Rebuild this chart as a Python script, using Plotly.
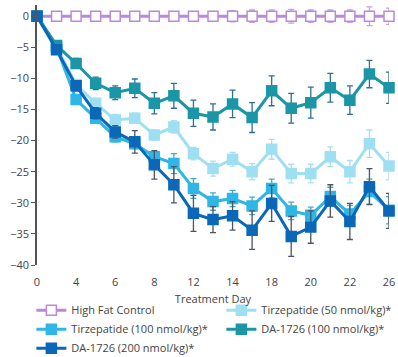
import plotly.graph_objects as go

# ---- data ----
x_index = list(range(19))
tick_positions = [0, 2, 4, 6, 8, 10, 12, 14, 16, 18]
tick_labels = ["0", "4", "6", "8", "12", "14", "18", "20", "22", "26"]

series_names = [
    "High Fat Control",
    "Tirzepatide (50 nmol/kg)*",
    "Tirzepatide (100 nmol/kg)*",
    "DA-1726 (100 nmol/kg)*",
    "DA-1726 (200 nmol/kg)*",
]

hfc = [0] * 19
hfc_err = [0, 0, 0, 0, 0, 0, 0, 0, 0.3, 0.6, 0.9, 1.0, 1.0, 1.1, 1.0, 1.0, 1.0, 1.5, 1.3]

tirz50 = [0, -5.0, -11.0, -14.0, -16.7, -16.4, -19.1, -17.8, -22.1, -24.5, -23.0, -25.0,
          -21.4, -25.3, -25.3, -22.6, -25.0, -20.5, -24.1]
tirz50_err = [0, 0.4, 0.8, 0.8, 0.9, 0.8, 0.8, 1.0, 1.0, 1.2, 1.1, 1.3, 1.6, 1.5, 1.5,
              1.6, 1.8, 2.2, 2.2]

tirz100 = [0, -5.0, -13.4, -16.4, -19.4, -20.5, -22.6, -23.7, -27.7, -29.8, -29.3, -30.5,
           -27.7, -31.3, -32.0, -29.0, -31.8, -28.2, -31.2]
tirz100_err = [0, 0.4, 0.7, 0.8, 0.8, 0.8, 0.8, 1.6, 1.6, 1.4, 1.3, 1.4, 1.5, 1.4, 1.3,
               1.5, 1.4, 2.0, 2.2]

da100 = [0, -4.7, -7.6, -10.8, -12.3, -11.6, -14.0, -12.8, -15.6, -16.2, -14.1, -16.3,
         -12.0, -14.8, -13.9, -11.5, -13.5, -9.3, -11.5]
da100_err = [0, 0.4, 0.8, 1.0, 1.1, 1.5, 1.7, 2.0, 2.1, 2.1, 2.2, 2.4, 2.4, 2.4, 2.5,
             2.3, 2.3, 2.2, 2.5]

da200 = [0, -5.4, -11.2, -15.6, -18.6, -20.2, -23.9, -27.1, -31.7, -32.7, -32.1, -34.4,
         -30.1, -35.4, -33.9, -29.7, -33.0, -27.4, -31.3]
da200_err = [0, 0.4, 0.8, 0.9, 1.0, 1.8, 2.3, 2.9, 2.9, 2.1, 2.3, 3.1, 2.9, 3.2, 2.6,
             2.6, 2.9, 2.9, 2.8]

values = [hfc, tirz50, tirz100, da100, da200]
errors = [hfc_err, tirz50_err, tirz100_err, da100_err, da200_err]

line_colors = ["#b98ad9", "#9fdff2", "#2db6e6", "#1a96a6", "#0b67b8"]
err_colors = ["#c6a3e3", "#a8dff0", "#4aa7c4", "#2f6f95", "#4d5560"]
fill_colors = ["white", "#9fdff2", "#2db6e6", "#1a96a6", "#0b67b8"]

fig = go.Figure()
for name, y, e, lc, ec, fc in zip(series_names, values, errors, line_colors, err_colors, fill_colors):
    fig.add_trace(go.Scatter(
        x=x_index, y=y, name=name, mode="lines+markers",
        line=dict(color=lc, width=3),
        marker=dict(symbol="square", size=10, color=fc, line=dict(color=lc, width=1.5)),
        error_y=dict(type="data", array=e, visible=True, color=ec, thickness=1.3, width=3),
        cliponaxis=False,
    ))

font_family = "'Open Sans', sans-serif"
fig.update_layout(
    width=398, height=357,
    margin=dict(l=37, r=9, t=5, b=92, autoexpand=False),
    paper_bgcolor="white", plot_bgcolor="white",
    font=dict(family=font_family, size=11, color="#444444"),
    showlegend=True,
    legend=dict(
        orientation="h", x=-0.016, y=-0.118, xanchor="left", yanchor="top",
        entrywidth=145, entrywidthmode="pixels",
        font=dict(family=font_family, size=11, color="#444444"),
        tracegroupgap=0, itemwidth=30,
        bgcolor="rgba(0,0,0,0)",
    ),
    xaxis=dict(
        range=[0, 18], tickmode="array", tickvals=tick_positions, ticktext=tick_labels,
        showgrid=False, zeroline=False, showline=False,
        ticks="outside", ticklen=7, tickcolor="rgba(0,0,0,0)",
        tickfont=dict(size=11, color="#444444"),
        title=dict(text="Treatment Day", font=dict(size=11, color="#444444"), standoff=7),
    ),
    yaxis=dict(
        range=[-40, 1.8], tickvals=[0, -5, -10, -15, -20, -25, -30, -35, -40],
        showgrid=False, zeroline=False, showline=True, linecolor="#555555", linewidth=1.5,
        ticks="outside", ticklen=4, tickcolor="#555555",
        tickfont=dict(size=11, color="#444444"),
    ),
)

fig.write_html("out.html", config={"displayModeBar": False},
               post_script="document.body.style.margin='0';")
